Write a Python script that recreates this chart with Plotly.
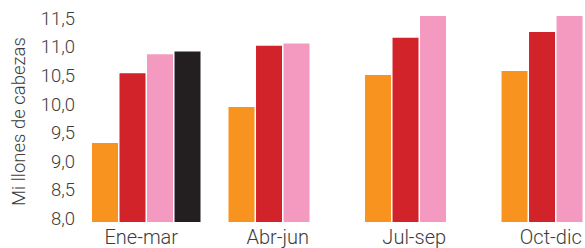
import plotly.graph_objects as go

categories = ["Ene-mar", "Abr-jun", "Jul-sep", "Oct-dic"]
series_a = [9.32, 9.95, 10.51, 10.58]   # orange
series_b = [10.54, 11.02, 11.16, 11.26]  # red
series_c = [10.87, 11.06, 11.58, 11.58]  # pink
series_d = [10.92, None, None, None]     # black
tick_vals = [8.0, 8.5, 9.0, 9.5, 10.0, 10.5, 11.0, 11.5]
tick_text = ["8,0", "8,5", "9,0", "9,5", "10,0", "10,5", "11,0", "11,5"]
y_title = "Mi llones de cabezas"

colors = ["#F7931E", "#D2232A", "#F49AC1", "#231F20"]
font_family = "Roboto, sans-serif"
text_color = "#3c3c3c"

fig = go.Figure()
for vals, col in zip([series_a, series_b, series_c, series_d], colors):
    fig.add_trace(go.Bar(x=categories, y=vals, marker_color=col,
                         marker_line_width=0, showlegend=False, hoverinfo="skip"))

fig.update_layout(
    width=585, height=248,
    margin=dict(l=78, r=0, t=16, b=26),
    barmode="group", bargap=0.194, bargroupgap=0.055,
    plot_bgcolor="white", paper_bgcolor="white",
    font=dict(family=font_family, size=18.5, color=text_color, weight=300),
)
fig.update_xaxes(range=[-0.5, 3.214], showline=False, showgrid=False,
                 ticks="", tickfont=dict(size=20, weight=300), automargin=False,
                 ticklabelshift=-5, ticklabelstandoff=1, fixedrange=True)
fig.update_yaxes(range=[7.94, 11.54], tickvals=tick_vals, ticktext=tick_text,
                 showgrid=False, zeroline=False, showline=False, ticks="",
                 tickfont=dict(size=18.5, weight=300), automargin=False,
                 ticklabelstandoff=2, fixedrange=True)
fig.add_annotation(text=y_title, textangle=-90, showarrow=False,
                   xref="paper", yref="paper",
                   x=(19 - 78) / 507, y=(222 - 122) / 206,
                   xanchor="center", yanchor="middle",
                   font=dict(size=18.5, color=text_color, weight=300))

fig.write_html("out.html", config={"displayModeBar": False},
               post_script="document.body.style.margin='0';document.body.style.padding='0';")
